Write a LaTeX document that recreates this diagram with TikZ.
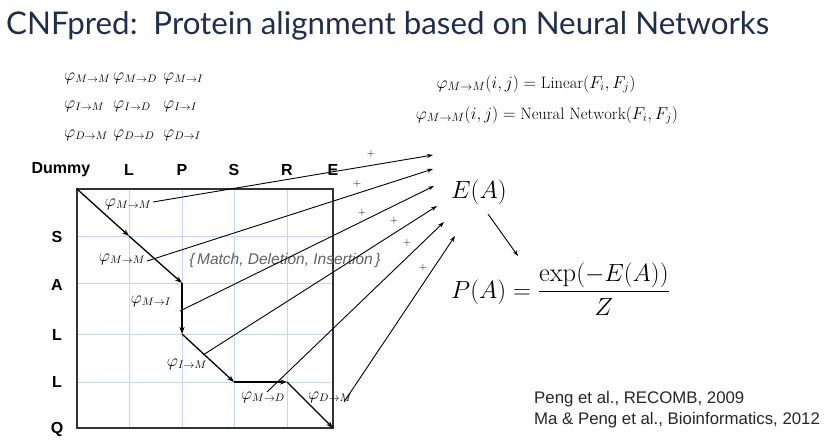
\documentclass[tikz,border=0pt]{standalone}
\usepackage{fontspec}
\usepackage{amsmath}
\usetikzlibrary{arrows.meta}
\newfontfamily\titlefont{Lato}
\newfontfamily\labfont{Liberation Sans}
\definecolor{titlecol}{HTML}{1F2E4F}
\definecolor{gridcol}{HTML}{C5D5EE}
\definecolor{frame}{HTML}{333333}
\begin{document}
\begin{tikzpicture}[x=1pt,y=-1pt,
  lab/.style={font=\labfont\bfseries\fontsize{16}{18}\selectfont, text=black, inner sep=0},
  phi/.style={font=\fontsize{16}{18}\selectfont, inner sep=0},
  form/.style={font=\fontsize{16.5}{18}\selectfont, inner sep=0},
  pathseg/.style={line width=1.3pt, -{Stealth[length=7pt,width=5pt]}},
  longarr/.style={line width=0.9pt, -{Stealth[length=6pt,width=4pt]}},
  plus/.style={font=\fontsize{11}{12}\selectfont, inner sep=0}]
\useasboundingbox (0,0) rectangle (832,444);
% title
\node[anchor=west, inner sep=0, text=titlecol, font=\titlefont\fontsize{31.3}{34}\selectfont] (title) at (6,26) {CNFpred:\, Protein alignment based on Neural Networks};
% phi table
\node[phi, anchor=west] (t11) at (64,78) {$\varphi_{M\to M}$};
\node[phi, anchor=west] (t12) at (113,78) {$\varphi_{M\to D}$};
\node[phi, anchor=west] (t13) at (163,78) {$\varphi_{M\to I}$};
\node[phi, anchor=west] (t21) at (64,106) {$\varphi_{I\to M}$};
\node[phi, anchor=west] (t22) at (113,106) {$\varphi_{I\to D}$};
\node[phi, anchor=west] (t23) at (163,106) {$\varphi_{I\to I}$};
\node[phi, anchor=west] (t31) at (64,135) {$\varphi_{D\to M}$};
\node[phi, anchor=west] (t32) at (113,135) {$\varphi_{D\to D}$};
\node[phi, anchor=west] (t33) at (163,135) {$\varphi_{D\to I}$};
% formulas
\node[form] (f1) at (536,84) {$\varphi_{M\to M}(i,j)=\mathrm{Linear}(F_i,F_j)$};
\node[form] (f2) at (547,115) {$\varphi_{M\to M}(i,j)=\mathrm{Neural\ Network}(F_i,F_j)$};
% grid
\foreach \x in {129,182,234,287} \draw[gridcol, line width=0.7pt] (\x,189) -- (\x,428);
\foreach \y in {236,283,334,382} \draw[gridcol, line width=0.7pt] (77,\y) -- (333,\y);
\draw[frame, line width=1.4pt] (77,189) rectangle (333,428);
% labels
\node[lab] (dummy) at (61,170) {Dummy};
\node[lab] (cL) at (129,170) {L};
\node[lab] (cP) at (182,170) {P};
\node[lab] (cS) at (234,170) {S};
\node[lab] (cR) at (287,170) {R};
\node[lab] (cE) at (333,170) {E};
\node[lab] (rS) at (57,237) {S};
\node[lab] (rA) at (57,285) {A};
\node[lab] (rL1) at (57,335) {L};
\node[lab] (rL2) at (57,382) {L};
\node[lab] (rQ) at (57,429) {Q};
% path
\coordinate (p0) at (77,189);
\coordinate (p1) at (129,236);
\coordinate (p2) at (182,283);
\coordinate (p3) at (182,334);
\coordinate (p4) at (234,382);
\coordinate (p5) at (287,382);
\coordinate (p6) at (333,428);
\draw[pathseg] (p0) -- (p1);
\draw[pathseg] (p1) -- (p2);
\draw[pathseg] (p2) -- (p3);
\draw[pathseg] (p3) -- (p4);
\draw[pathseg] (p4) -- (p5);
\draw[pathseg] (p5) -- (p6);
% path labels
\node[phi] (l1) at (128,204) {$\varphi_{M\to M}$};
\node[phi] (l2) at (122,259) {$\varphi_{M\to M}$};
\node[phi] (l3) at (151,301) {$\varphi_{M\to I}$};
\node[phi] (l4) at (187,364) {$\varphi_{I\to M}$};
\node[phi] (l5) at (263,397) {$\varphi_{M\to D}$};
\node[phi] (l6) at (330,397) {$\varphi_{D\to M}$};
\node[inner sep=0, text=black!62, font=\labfont\itshape\fontsize{15.5}{17}\selectfont] (mdi) at (285,260) {\{\,Match, Deletion, Insertion\,\}};
% long arrows
\coordinate (s1) at (153,202); \coordinate (e1) at (433,155);
\coordinate (s2) at (147,261); \coordinate (e2) at (433,169);
\coordinate (s3) at (180,311); \coordinate (e3) at (434,186);
\coordinate (s4) at (203,355); \coordinate (e4) at (437,206);
\coordinate (s5) at (267,392); \coordinate (e5) at (444,222);
\coordinate (s6) at (344,402); \coordinate (e6) at (455,236);
\foreach \i in {1,...,6} \draw[longarr] (s\i) -- (e\i);
\node[plus] (pl1) at (371,154) {+};
\node[plus] (pl2) at (357,184) {+};
\node[plus] (pl3) at (362,213) {+};
\node[plus] (pl4) at (394,221) {+};
\node[plus] (pl5) at (407,243) {+};
\node[plus] (pl6) at (423,268) {+};
% energy
\node[inner sep=0, anchor=west, font=\fontsize{24}{26}\selectfont] (EA) at (451,192) {$E(A)$};
\coordinate (a1) at (488,214);
\coordinate (a2) at (518,256);
\draw[line width=0.9pt, -{Stealth[length=6pt,width=4pt]}] (a1) -- (a2);
\node[inner sep=0, anchor=west, font=\fontsize{26.5}{29}\selectfont] (PA) at (451,289) {$P(A)=\dfrac{\exp(-E(A))}{Z}$};
% refs
\node[inner sep=0, anchor=west, align=left, text=black!85, font=\labfont\fontsize{16.8}{21}\selectfont] (refs) at (534,410) {Peng et al., RECOMB, 2009\\Ma \& Peng et al., Bioinformatics, 2012};
\end{tikzpicture}
\end{document}
